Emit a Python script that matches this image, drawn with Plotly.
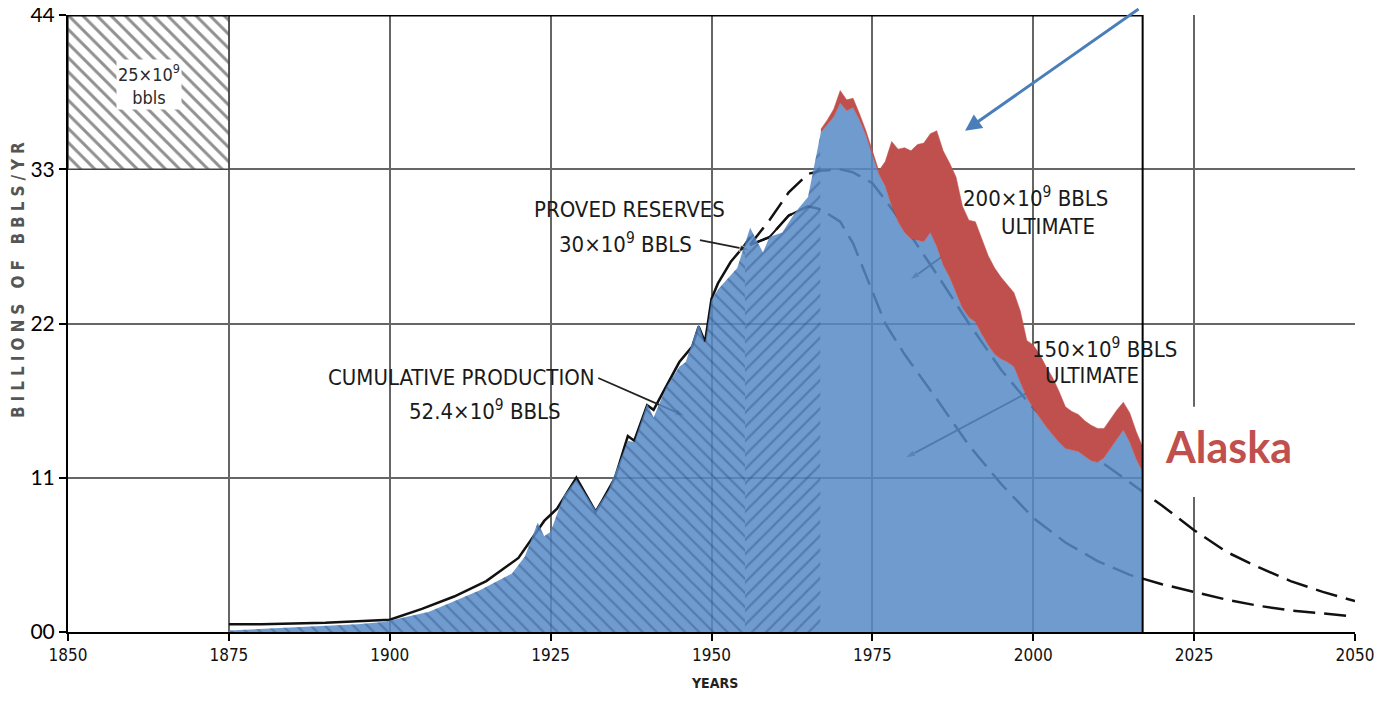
import numpy as np
import plotly.graph_objects as go

# ---------------- data (billion barrels per year) ----------------
prod_years = [1875, 1880, 1885, 1890, 1895, 1899, 1903, 1906, 1910, 1914, 1919, 1921, 1923, 1924, 1925,
              1926, 1927, 1929, 1932, 1934, 1937, 1938, 1940, 1941, 1943, 1945, 1946, 1948, 1949, 1950,
              1951, 1954, 1956, 1958, 1959, 1961, 1963, 1965, 1966, 1967, 1969, 1970, 1971, 1972, 1973,
              1974, 1975, 1976, 1977, 1978, 1979, 1980, 1981, 1982, 1983, 1984, 1985, 1986, 1987, 1988,
              1989, 1990, 1991, 1992, 1993, 1994, 1995, 1996, 1997, 1998, 1999, 2000, 2001, 2002, 2003,
              2004, 2005, 2006, 2007, 2008, 2009, 2010, 2011, 2012, 2013, 2014, 2015, 2016, 2017]
prod_lower48 = [0.01, 0.02, 0.03, 0.04, 0.05, 0.065, 0.10, 0.13, 0.20, 0.27, 0.38, 0.49, 0.71, 0.62, 0.65,
                0.77, 0.88, 0.99, 0.79, 0.92, 1.24, 1.23, 1.48, 1.39, 1.59, 1.72, 1.75, 2.00, 1.87, 2.15,
                2.22, 2.36, 2.62, 2.46, 2.56, 2.59, 2.72, 2.82, 3.04, 3.24, 3.34, 3.43, 3.38, 3.40, 3.32,
                3.22, 3.10, 2.97, 2.89, 2.76, 2.66, 2.59, 2.55, 2.54, 2.53, 2.59, 2.50, 2.38, 2.30, 2.20,
                2.10, 2.04, 2.01, 1.93, 1.86, 1.80, 1.77, 1.75, 1.72, 1.62, 1.52, 1.45, 1.39, 1.33, 1.28,
                1.23, 1.19, 1.18, 1.17, 1.14, 1.11, 1.10, 1.13, 1.19, 1.25, 1.31, 1.23, 1.12, 1.04]

alaska_years = [1967, 1968, 1969, 1970, 1971, 1972, 1973, 1974, 1975, 1976, 1977, 1978, 1979, 1980,
                1981, 1982, 1983, 1984, 1985, 1986, 1987, 1988, 1989, 1990, 1991, 1992, 1993, 1994,
                1995, 1996, 1997, 1998, 1999, 2000, 2001, 2002, 2003, 2004, 2005, 2006, 2007, 2008,
                2009, 2010, 2011, 2012, 2013, 2014, 2015, 2016, 2017]
alaska_prod = [0.02, 0.03, 0.05, 0.08, 0.07, 0.06, 0.04, 0.03, 0.02, 0.02, 0.16, 0.42, 0.47, 0.55,
               0.57, 0.62, 0.64, 0.64, 0.75, 0.74, 0.74, 0.75, 0.66, 0.63, 0.65, 0.62, 0.58, 0.56,
               0.53, 0.50, 0.48, 0.46, 0.37, 0.41, 0.41, 0.39, 0.37, 0.33, 0.27, 0.25, 0.24, 0.23,
               0.23, 0.22, 0.19, 0.19, 0.19, 0.18, 0.19, 0.18, 0.16]

# Hubbert's 1956 hand-drawn production history
hubbert_hist_years = [1875, 1880, 1885, 1890, 1895, 1900, 1905, 1910, 1915, 1920, 1922, 1924, 1926, 1929,
                      1932, 1933, 1935, 1937, 1938, 1940, 1941, 1943, 1945, 1947, 1948, 1949, 1950, 1951,
                      1953, 1955, 1956]
hubbert_hist = [0.05, 0.05, 0.055, 0.06, 0.07, 0.08, 0.15, 0.23, 0.33, 0.48, 0.60, 0.72, 0.80, 1.00,
                0.78, 0.85, 1.00, 1.27, 1.24, 1.47, 1.44, 1.60, 1.75, 1.85, 1.98, 1.88, 2.16, 2.26,
                2.40, 2.50, 2.56]

# Hubbert projections
proj_years = [1956, 1959, 1962, 1965, 1967, 1970, 1972, 1975, 1977, 1980, 1985, 1990, 1995, 2000, 2005,
              2010, 2015, 2020, 2025, 2030, 2035, 2040, 2045, 2050]
proj_200 = [2.51, 2.67, 2.85, 2.97, 2.99, 3.00, 2.98, 2.91, 2.80, 2.63, 2.32, 2.00, 1.70, 1.45, 1.28,
            1.12, 0.97, 0.82, 0.66, 0.52, 0.42, 0.33, 0.26, 0.20]
proj_150 = [2.51, 2.56, 2.70, 2.76, 2.74, 2.66, 2.52, 2.20, 2.00, 1.80, 1.51, 1.21, 0.96, 0.74, 0.58,
            0.46, 0.37, 0.31, 0.26, 0.21, 0.17, 0.14, 0.12, 0.10]

x_ticks = [1850, 1875, 1900, 1925, 1950, 1975, 2000, 2025, 2050]
y_ticks = [0, 1, 2, 3, 4]
y_ticktext = ["00", "11", "22", "33", "44"]

reserves_start = 1955.2
reserves_end = 1966.9
box_years = [1850, 1875]
box_range = [3, 4]

# ---------------- styles ----------------
BLUE_FILL = "rgba(86,137,199,0.85)"
HATCH = "rgba(40,70,120,0.75)"
RED = "#c0504d"
GRID = "#666666"
COND = "DejaVu Sans Condensed"

fig = go.Figure()

py = np.array(prod_years, dtype=float)
pv = np.array(prod_lower48, dtype=float)

# Hubbert projections (drawn under the blue fill)
for proj in (proj_200, proj_150):
    fig.add_trace(go.Scatter(x=proj_years, y=proj, mode="lines",
                             line=dict(color="#111", width=2.5, dash="22px,9px"), hoverinfo="skip"))
# solid reserve boundary
mask = [y <= 1966 for y in proj_years]
fig.add_trace(go.Scatter(x=[y for y, m in zip(proj_years, mask) if m],
                         y=[v for v, m in zip(proj_150, mask) if m], mode="lines",
                         line=dict(color="#111", width=2), hoverinfo="skip"))
# Hubbert original history line
fig.add_trace(go.Scatter(x=hubbert_hist_years, y=hubbert_hist, mode="lines",
                         line=dict(color="#111", width=2.5), hoverinfo="skip"))

# pointer arrows drawn under the fill
pointers = [
    ([1932.4, 1945.9], [1.647, 1.40]),
    ([1948.2, 1956.0], [2.541, 2.476]),
    ([1986.6, 1980.8], [2.457, 2.282]),
    ([1999.0, 1980.1], [1.549, 1.128]),
]
for xs, ys in pointers:
    fig.add_trace(go.Scatter(x=xs, y=ys, mode="lines+markers",
                             line=dict(color="#222", width=1.8),
                             marker=dict(symbol="arrow", size=[0, 11], angleref="previous", color="#222"),
                             hoverinfo="skip"))

# hatched box top-left
fig.add_trace(go.Scatter(x=[box_years[0], box_years[1], box_years[1], box_years[0], box_years[0]],
                         y=[box_range[0], box_range[0], box_range[1], box_range[1], box_range[0]],
                         mode="lines", fill="toself", line=dict(color="#444", width=1.5),
                         fillcolor="white",
                         fillpattern=dict(shape="\\", fgcolor="#222", bgcolor="white", size=10, solidity=0.3),
                         hoverinfo="skip"))

# blue production area (solid)
fig.add_trace(go.Scatter(x=py, y=pv, mode="lines", fill="tozeroy",
                         line=dict(color="rgba(0,0,0,0)", width=0), fillcolor=BLUE_FILL, hoverinfo="skip"))

# hatched overlays
def segment(a, b):
    inside = (py > a) & (py < b)
    xs = np.concatenate([[a], py[inside], [b]])
    ys = np.interp(xs, py, pv)
    return xs, ys

for (a, b), shp in [((prod_years[0], reserves_start), "\\"), ((reserves_start, reserves_end), "/")]:
    xs, ys = segment(a, b)
    fig.add_trace(go.Scatter(x=xs, y=ys, mode="lines", fill="tozeroy",
                             line=dict(width=0, color="rgba(0,0,0,0)"), fillcolor="rgba(0,0,0,0)",
                             fillpattern=dict(shape=shp, fgcolor=HATCH, bgcolor="rgba(0,0,0,0)", size=10,
                                              solidity=0.22), hoverinfo="skip"))

# Alaska band
ay = np.array(alaska_years, dtype=float)
base = np.interp(ay, py, pv)
top = base + np.array(alaska_prod)
fig.add_trace(go.Scatter(x=np.concatenate([ay, ay[::-1]]), y=np.concatenate([top, base[::-1]]),
                         mode="lines", fill="toself", fillcolor=RED, line=dict(color=RED, width=0.5),
                         hoverinfo="skip"))

end_year = prod_years[-1]
shapes = [
    dict(type="rect", xref="x", yref="y", x0=end_year, x1=2050.5, y0=0.875, y1=1.46,
         fillcolor="white", line=dict(width=0), layer="above"),
    dict(type="line", xref="x", yref="y", x0=end_year, x1=end_year, y0=0, y1=4,
         line=dict(color="black", width=2), layer="above"),
    dict(type="line", xref="x", yref="y", x0=1850, x1=end_year, y0=4, y1=4,
         line=dict(color="black", width=3), layer="above"),
]

T = dict(family=COND, size=22, color="#1a1a1a")
annotations = [
    dict(x=1937.3, y=2.736, text="PROVED RESERVES", showarrow=False, font=T),
    dict(x=1936.6, y=2.52, text="30×10<sup>9</sup> BBLS", showarrow=False, font=T),
    dict(x=1911.2, y=1.647, text="CUMULATIVE PRODUCTION", showarrow=False, font=T),
    dict(x=1914.8, y=1.44, text="52.4×10<sup>9</sup> BBLS", showarrow=False, font=T),
    dict(x=2000.3, y=2.82, text="200×10<sup>9</sup> BBLS", showarrow=False, font=T),
    dict(x=2002.3, y=2.63, text="ULTIMATE", showarrow=False, font=T),
    dict(x=2011.1, y=1.84, text="150×10<sup>9</sup> BBLS", showarrow=False, font=T),
    dict(x=2009.1, y=1.66, text="ULTIMATE", showarrow=False, font=T),
    dict(x=1862.6, y=3.55, text="25×10<sup>9</sup><br>bbls", showarrow=False, bgcolor="white",
         font=dict(family=COND, size=18, color="#2a2a2a")),
    dict(x=2030.3, y=1.2, text="<b>Alaska</b>", showarrow=False,
         font=dict(family="Lato", size=43, color=RED)),
    dict(x=1989.4, y=3.25, ax=175, ay=-132, text="", showarrow=True, arrowhead=2, arrowsize=1.1,
         arrowwidth=3, arrowcolor="#4a7ebb", standoff=0, xref="x", yref="y"),
    dict(x=1950.4, y=-0.099, xref="x", yref="paper", text="<b>YEARS</b>", showarrow=False,
         font=dict(family=COND, size=14, color="#222")),
    dict(x=-0.039, y=0.575, xref="paper", yref="paper", xanchor="center", yanchor="middle",
         textangle=-90, showarrow=False,
         text='<b><span style="letter-spacing:5px">BILLIONS OF BBLS/YR</span></b>',
         font=dict(family=COND, size=17, color="#555")),
]

# page body has an 8px offset, so the figure is laid out to compensate
fig.update_layout(
    width=1379, height=697,
    margin=dict(l=60, r=32, t=7, b=73, autoexpand=False),
    plot_bgcolor="white", paper_bgcolor="white", showlegend=False,
    shapes=shapes, annotations=annotations,
    xaxis=dict(range=[1850, 2050], tickvals=x_ticks, showgrid=True, gridcolor=GRID, gridwidth=2,
               zeroline=False, showline=True, linecolor="black", linewidth=2, ticks="outside",
               ticklen=7, tickwidth=2, tickcolor="black", automargin=False, ticklabeloverflow="allow",
               tickfont=dict(family=COND, size=17, color="#111")),
    yaxis=dict(range=[0, 4], tickvals=y_ticks, ticktext=y_ticktext, showgrid=True, gridcolor=GRID,
               gridwidth=2, zeroline=False, showline=True, linecolor="black", linewidth=2,
               ticks="outside", ticklen=7, tickwidth=2, tickcolor="black", automargin=False,
               ticklabeloverflow="allow",
               tickfont=dict(family="Lato", size=21, color="black")),
)

fig.write_html("out.html")
